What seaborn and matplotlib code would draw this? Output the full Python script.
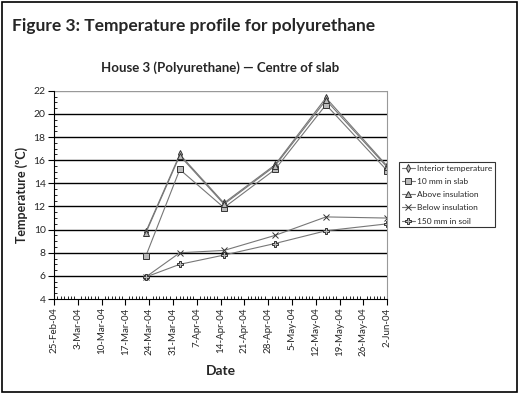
import pandas as pd
import seaborn as sns
import matplotlib.pyplot as plt
import matplotlib.dates as mdates
from matplotlib.patches import Rectangle

# readings (dates of measurement)
dates = pd.to_datetime(["2004-03-23", "2004-04-02", "2004-04-15",
                        "2004-04-30", "2004-05-15", "2004-06-02"])
interior = [9.8, 16.5, 12.3, 15.6, 21.4, 15.5]
slab_10mm = [7.7, 15.2, 11.9, 15.2, 20.8, 15.1]
above_ins = [9.7, 16.4, 12.2, 15.5, 21.2, 15.4]
below_ins = [5.9, 8.0, 8.2, 9.5, 11.1, 11.0]
soil_150mm = [5.9, 7.0, 7.8, 8.8, 9.9, 10.5]

# weekly axis ticks
tick_dates = pd.date_range("2004-02-25", "2004-06-02", freq="7D")

series = {
    "Interior temperature": (interior, "d", 4),
    "10 mm in slab": (slab_10mm, "s", 4),
    "Above insulation": (above_ins, "^", 4),
    "Below insulation": (below_ins, "x", 4),
    "150 mm in soil": (soil_150mm, "P", 5),
}

sns.set_style("white")
plt.rcParams['font.family'] = ['Lato', 'DejaVu Sans']

fig = plt.figure(figsize=(5.19, 3.95), dpi=100)
ax = fig.add_axes([0.104, 0.243, 0.642, 0.527])

for name, (vals, mk, ms) in series.items():
    df = pd.DataFrame({"Date": dates, "Temp": vals})
    sns.lineplot(data=df, x="Date", y="Temp", ax=ax, label=name,
                 color="#777777", lw=0.8, marker=mk, markersize=ms,
                 markerfacecolor="#bbbbbb", markeredgecolor="#333333",
                 markeredgewidth=0.7)

ax.set_xlim(tick_dates[0], tick_dates[-1])
ax.set_ylim(4, 22)
ax.set_yticks(range(4, 23, 2))
ax.yaxis.set_minor_locator(plt.MultipleLocator(0.5))
ax.set_xticks(tick_dates)
ax.xaxis.set_minor_locator(mdates.DayLocator())
ax.xaxis.set_major_formatter(mdates.DateFormatter("%-d-%b-%y"))
plt.setp(ax.get_xticklabels(), rotation=90, fontsize=7)
plt.setp(ax.get_yticklabels(), fontsize=7.5)
ax.tick_params(axis="both", which="major", direction="out", length=4, width=0.8, color="black", bottom=True, left=True, pad=2)
ax.tick_params(axis="both", which="minor", direction="in", length=2, width=0.6, color="black", bottom=True, left=True)

for y in range(6, 21, 2):
    ax.axhline(y, color="black", lw=1.0, zorder=0)
ax.axhline(22, color="#999999", lw=1.0, zorder=0)

ax.spines["top"].set_visible(False)
ax.spines["right"].set_color("#999999")
ax.spines["left"].set_color("black")
ax.spines["bottom"].set_color("black")

ax.set_xlabel("Date", fontsize=10, fontweight="bold", labelpad=6)
ax.set_ylabel("Temperature (ºC)", fontsize=9, fontweight="bold", labelpad=4)
ax.set_title("House 3 (Polyurethane) — Centre of slab", fontsize=9.5,
             fontweight="bold", pad=14)

leg = ax.legend(loc="upper left", bbox_to_anchor=(1.035, 0.66), fontsize=6,
                frameon=True, fancybox=False, edgecolor="black",
                handlelength=1.6, borderpad=0.35, labelspacing=0.75,
                handletextpad=0.2, borderaxespad=0)
leg.get_frame().set_linewidth(0.8)

fig.text(0.023, 0.955, "Figure 3: Temperature profile for polyurethane",
         fontsize=12.5, fontweight="bold", va="top")
fig.patches.append(Rectangle((0.004, 0.008), 0.992, 0.987, transform=fig.transFigure,
                             fill=False, edgecolor="black", lw=1.2))

plt.savefig("out.png", dpi=100)
